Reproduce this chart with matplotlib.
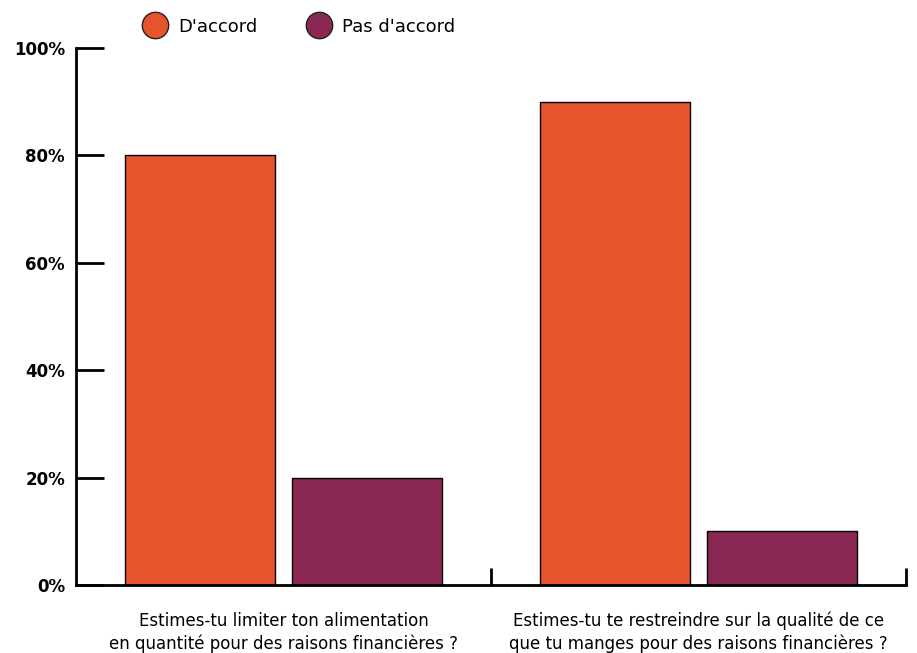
import matplotlib
matplotlib.use('Agg')
from matplotlib import pyplot as plt
from matplotlib.lines import Line2D
import numpy as np

categories = ["Estimes-tu limiter ton alimentation\nen quantité pour des raisons financières ?",
              "Estimes-tu te restreindre sur la qualité de ce\nque tu manges pour des raisons financières ?"]
series_names = ["D'accord", "Pas d'accord"]
accord = [80, 90]
pas_accord = [20, 10]
colors = ["#E5542C", "#8A2853"]
yticks = [0, 20, 40, 60, 80, 100]

fig = plt.figure(figsize=(9.17, 6.53), dpi=100)
ax = fig.add_axes([0.0829, 0.1041, 0.9051, 0.8224])

x = np.arange(len(categories))
w = 0.362
off = 0.2005
ax.bar(x - off, accord, w, color=colors[0], edgecolor='black', linewidth=1)
ax.bar(x + off, pas_accord, w, color=colors[1], edgecolor='black', linewidth=1)

ax.set_xlim(-0.5, 1.5)
ax.set_ylim(0, 100)
ax.set_yticks(yticks)
ax.set_yticklabels([f"{v}%" for v in yticks], fontsize=12, fontweight='bold')
ax.tick_params(axis='y', direction='in', length=20, width=2, pad=8)

# libellés des catégories au centre, graduations aux bords des groupes
ax.set_xticks([0.5, 1.5])
ax.set_xticklabels([])
ax.tick_params(axis='x', direction='in', length=12, width=2)
for xi, lab in zip(x, categories):
    ax.text(xi, -5, lab, ha='center', va='top', fontsize=12, linespacing=1.3,
            transform=ax.transData)

for s in ['top', 'right']:
    ax.spines[s].set_visible(False)
ax.spines['left'].set_linewidth(2)
ax.spines['bottom'].set_linewidth(2)

handles = [Line2D([], [], marker='o', linestyle='', markersize=19,
                  markerfacecolor=c, markeredgecolor='#222222', markeredgewidth=1)
           for c in colors]
fig.legend(handles, series_names, loc='center', bbox_to_anchor=(0.323, 0.959),
           ncol=2, frameon=False, fontsize=13, handletextpad=0.3, columnspacing=2.4)

fig.savefig('out.png', dpi=100)
